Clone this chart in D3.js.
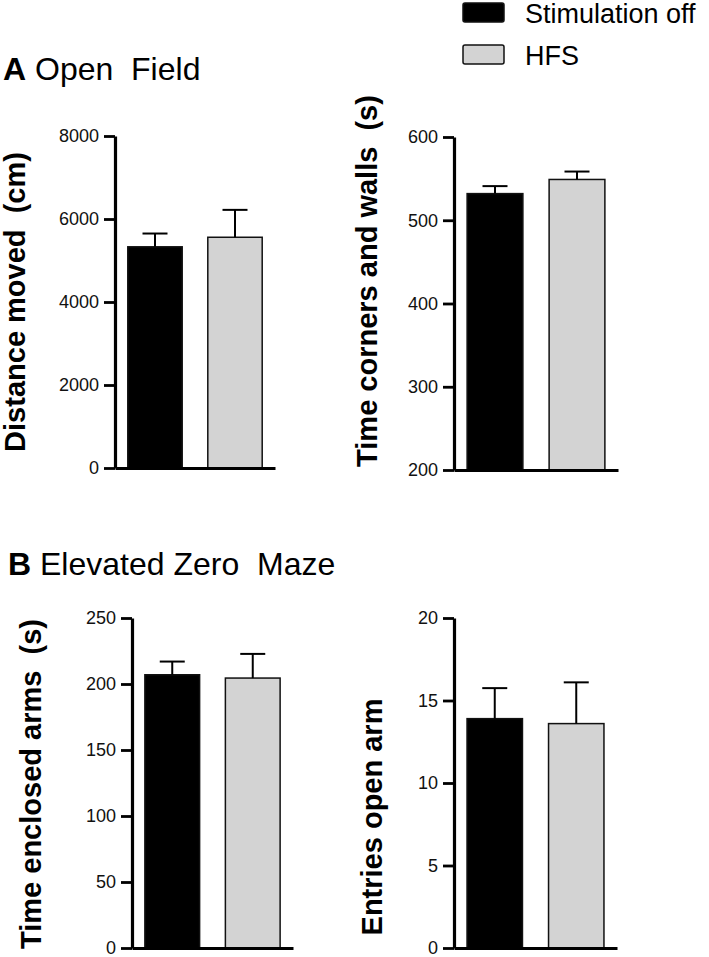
<!DOCTYPE html>
<html>
<head>
<meta charset="utf-8">
<script src="https://cdn.jsdelivr.net/npm/d3@7"></script>
<style>
  html, body { margin: 0; padding: 0; background: #fff; }
  svg { display: block; font-family: "Liberation Sans", Arial, Helvetica, sans-serif; }
  text { white-space: pre; }
</style>
</head>
<body>
<svg id="chart" width="709" height="957"></svg>
<script>
// ---- Data ----
const groups = ["Stimulation off", "HFS"];
const groupColors = ["#000000", "#d3d3d3"];

const distanceMean = [5330, 5560];
const distanceSem  = [320, 660];
const distanceTicks = [0, 2000, 4000, 6000, 8000];

const cornersMean = [532, 549];
const cornersSem  = [9, 9.5];
const cornersTicks = [200, 300, 400, 500, 600];

const enclosedMean = [207, 204.5];
const enclosedSem  = [10, 18.3];
const enclosedTicks = [0, 50, 100, 150, 200, 250];

const entriesMean = [13.9, 13.6];
const entriesSem  = [1.85, 2.5];
const entriesTicks = [0, 5, 10, 15, 20];

const titleA = ["A", " Open  Field"];
const titleB = ["B", " Elevated Zero  Maze"];

// ---- Layout ----
const panels = [
  { mean: distanceMean, sem: distanceSem, ticks: distanceTicks, label: "Distance moved  (cm)",
    x0: 115, x1: 275, yTop: 136, yBot: 468, labelX: 25, labelY: 302 },
  { mean: cornersMean, sem: cornersSem, ticks: cornersTicks, label: "Time corners and walls  (s)",
    x0: 454, x1: 618, yTop: 137, yBot: 470, labelX: 377, labelY: 281 },
  { mean: enclosedMean, sem: enclosedSem, ticks: enclosedTicks, label: "Time enclosed arms  (s)",
    x0: 132, x1: 293, yTop: 618, yBot: 948, labelX: 41, labelY: 784 },
  { mean: entriesMean, sem: entriesSem, ticks: entriesTicks, label: "Entries open arm",
    x0: 454, x1: 617, yTop: 618, yBot: 948, labelX: 382, labelY: 817 }
];

const svg = d3.select("#chart");

panels.forEach(p => {
  const g = svg.append("g");
  const y = d3.scaleLinear()
    .domain([p.ticks[0], p.ticks[p.ticks.length - 1]])
    .range([p.yBot, p.yTop]);
  const x = d3.scaleBand()
    .domain(groups)
    .range([p.x0, p.x1])
    .paddingInner(0.32)
    .paddingOuter(0.16);

  // bars
  g.selectAll("rect.bar")
    .data(groups)
    .join("rect")
    .attr("class", "bar")
    .attr("x", d => x(d))
    .attr("width", x.bandwidth())
    .attr("y", (d, i) => y(p.mean[i]))
    .attr("height", (d, i) => y(p.ticks[0]) - y(p.mean[i]))
    .attr("fill", (d, i) => groupColors[i])
    .attr("stroke", "#111")
    .attr("stroke-width", 1.5);

  // error bars (upper only)
  const capW = 25;
  groups.forEach((d, i) => {
    const cx = x(d) + x.bandwidth() / 2;
    g.append("line")
      .attr("x1", cx).attr("x2", cx)
      .attr("y1", y(p.mean[i])).attr("y2", y(p.mean[i] + p.sem[i]))
      .attr("stroke", "#000").attr("stroke-width", 2);
    g.append("line")
      .attr("x1", cx - capW / 2).attr("x2", cx + capW / 2)
      .attr("y1", y(p.mean[i] + p.sem[i])).attr("y2", y(p.mean[i] + p.sem[i]))
      .attr("stroke", "#000").attr("stroke-width", 2);
  });

  // y axis
  const ya = g.append("g")
    .attr("transform", `translate(${p.x0},0)`)
    .call(d3.axisLeft(y).tickValues(p.ticks).tickFormat(d3.format("d"))
      .tickSize(11).tickSizeOuter(0).tickPadding(5));
  ya.select(".domain").attr("stroke", "#000").attr("stroke-width", 3.2);
  ya.selectAll(".tick line").attr("stroke", "#000").attr("stroke-width", 2.8);
  ya.selectAll(".tick text").attr("font-size", 18).attr("fill", "#111")
    .attr("font-family", "'Liberation Sans', Arial, sans-serif");

  // x axis
  const xa = g.append("g")
    .attr("transform", `translate(0,${p.yBot})`)
    .call(d3.axisBottom(x).tickSize(0).tickSizeOuter(0).tickFormat(""));
  xa.select(".domain").attr("stroke", "#000").attr("stroke-width", 3.2);
  xa.selectAll(".tick").remove();

  // y label
  g.append("text")
    .attr("transform", `translate(${p.labelX},${p.labelY}) rotate(-90)`)
    .attr("text-anchor", "middle")
    .attr("font-size", 29)
    .attr("font-weight", "bold")
    .attr("fill", "#000")
    .text(p.label);
});

// titles
function title(parts, xPos, yPos) {
  const t = svg.append("text").attr("x", xPos).attr("y", yPos)
    .attr("font-size", 32).attr("fill", "#000");
  t.append("tspan").attr("font-weight", "bold").text(parts[0]);
  t.append("tspan").text(parts[1]);
}
title(titleA, 3, 80);
title(titleB, 8, 575);

// legend
const legend = svg.append("g");
groups.forEach((gName, i) => {
  const yy = 3 + i * 42;
  legend.append("rect")
    .attr("x", 463).attr("y", yy).attr("width", 41).attr("height", 19)
    .attr("rx", 2)
    .attr("fill", groupColors[i]).attr("stroke", "#111").attr("stroke-width", 1.5);
  legend.append("text")
    .attr("x", 525).attr("y", yy + 20)
    .attr("font-size", 27).attr("fill", "#000")
    .text(gName);
});
</script>
</body>
</html>
